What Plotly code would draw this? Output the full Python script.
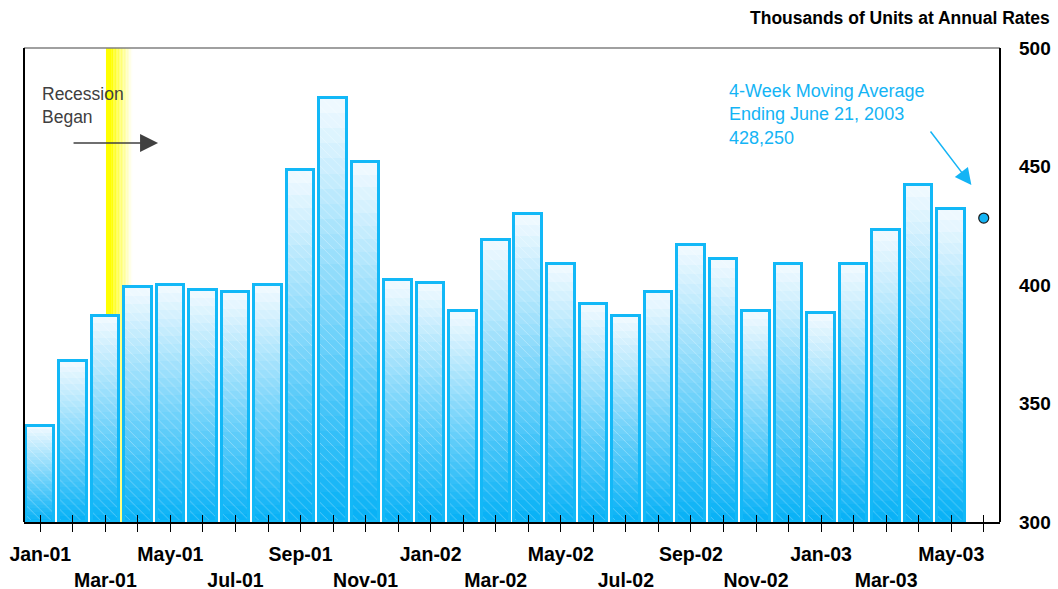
import plotly.graph_objects as go

# Monthly housing starts, thousands of units at annual rates
months = ["Jan-01", "Feb-01", "Mar-01", "Apr-01", "May-01", "Jun-01", "Jul-01", "Aug-01",
          "Sep-01", "Oct-01", "Nov-01", "Dec-01", "Jan-02", "Feb-02", "Mar-02", "Apr-02",
          "May-02", "Jun-02", "Jul-02", "Aug-02", "Sep-02", "Oct-02", "Nov-02", "Dec-02",
          "Jan-03", "Feb-03", "Mar-03", "Apr-03", "May-03", "Jun-03"]
starts = [340.5, 368, 387, 399, 400, 398, 397, 400, 448.5, 479, 452, 402, 401, 389,
          419, 430, 409, 392, 387, 397, 417, 411, 389, 409, 388, 409, 423, 442, 432]
moving_avg_month = "Jun-03"
moving_avg_value = 428.25
recession_month = "Mar-01"
y_ticks = [300, 350, 400, 450, 500]

BASE = 300
N_STEPS = 28
LIGHT = (238, 249, 255)
DARK = (10, 178, 246)
EDGE = "#12B8F7"

xi = list(range(len(starts)))
heights = [v - BASE for v in starts]

fig = go.Figure()

# Vertical gradient inside each bar: stacked overlay bars, light on top, deep blue at base
for k in range(N_STEPS):
    t = k / (N_STEPS - 1)
    col = tuple(round(LIGHT[i] + (DARK[i] - LIGHT[i]) * t) for i in range(3))
    frac = (N_STEPS - k) / N_STEPS
    fig.add_trace(go.Bar(
        x=xi, y=[h * frac for h in heights], base=BASE, width=0.85,
        marker=dict(color="rgb(%d,%d,%d)" % col, line=dict(width=0)),
        hoverinfo="skip", showlegend=False))

# Outline with faint diagonal hatching
fig.add_trace(go.Bar(
    x=xi, y=heights, base=BASE, width=0.85,
    customdata=starts, hovertemplate="%{customdata}<extra></extra>",
    marker=dict(color="rgba(0,0,0,0)", line=dict(color=EDGE, width=3),
                pattern=dict(shape="\\", fgcolor="white", fgopacity=0.35,
                             size=7, solidity=0.12)),
    showlegend=False))

# 4-week moving average point
ma_x = months.index(moving_avg_month)
fig.add_trace(go.Scatter(
    x=[ma_x], y=[moving_avg_value], mode="markers",
    marker=dict(size=10, color="#14B4F5", line=dict(color="#1a1a1a", width=1.2)),
    showlegend=False))

# Recession band: solid yellow fading to white
r0 = months.index(recession_month)
band_start, band_solid, band_end = r0 + 0.02, r0 + 0.2, r0 + 0.83
fig.add_shape(type="rect", xref="x", yref="paper", x0=band_start, x1=band_solid,
              y0=0, y1=1, fillcolor="#FFFF00", line=dict(width=0), layer="below")
n_fade = 14
for k in range(n_fade):
    a = band_solid + (band_end - band_solid) * k / n_fade
    b = band_solid + (band_end - band_solid) * (k + 1) / n_fade
    t = (k + 0.5) / n_fade
    blue = round(255 * t)
    fig.add_shape(type="rect", xref="x", yref="paper", x0=a, x1=b, y0=0, y1=1,
                  fillcolor="rgb(255,255,%d)" % blue, line=dict(width=0), layer="below")

# Frame lines
fig.add_shape(type="line", xref="paper", yref="paper", x0=0, x1=1, y0=1, y1=1,
              line=dict(color="#808080", width=1.5))
fig.add_shape(type="line", xref="paper", yref="paper", x0=0, x1=0, y0=0, y1=1,
              line=dict(color="black", width=2))
fig.add_shape(type="line", xref="paper", yref="paper", x0=1, x1=1, y0=0, y1=1,
              line=dict(color="black", width=2))

# Tick labels alternate between two rows
tick_text = []
for i, m in enumerate(months):
    if i % 2:
        tick_text.append("")
    elif (i // 2) % 2 == 0:
        tick_text.append(m)
    else:
        tick_text.append("<br>" + m)

FONT = "Liberation Sans, Arial"
fig.add_annotation(xref="paper", yref="paper", x=16 / 976, y=1 - 34 / 474,
                   xanchor="left", yanchor="top", align="left", showarrow=False,
                   text="Recession<br>Began", font=dict(family=FONT, size=17.5, color="#404040"))
fig.add_annotation(xref="x", yref="y", x=r0 + 1.62, y=500 - (143 - 48) / 2.37,
                   ax=-86, ay=0, axref="pixel", ayref="pixel", text="",
                   showarrow=True, arrowhead=2, arrowsize=2.4, arrowwidth=1.5,
                   arrowcolor="#404040")
fig.add_annotation(xref="paper", yref="paper", x=703 / 976, y=1 - 31 / 474,
                   xanchor="left", yanchor="top", align="left", showarrow=False,
                   text="4-Week Moving Average<br>Ending June 21, 2003<br>428,250",
                   font=dict(family=FONT, size=18, color="#14B4F5"))
fig.add_annotation(xref="x", yref="y", x=ma_x - 0.38, y=500 - (185 - 48) / 2.37,
                   ax=-42, ay=-55, axref="pixel", ayref="pixel", text="",
                   showarrow=True, arrowhead=2, arrowsize=2.2, arrowwidth=1.5,
                   arrowcolor="#14B4F5")
fig.add_annotation(xref="paper", yref="paper", x=1 + 52 / 976, y=1 + 30 / 474,
                   xanchor="right", yanchor="middle", showarrow=False,
                   text="<b>Thousands of Units at Annual Rates</b>",
                   font=dict(family=FONT, size=17.5, color="black"))

fig.update_layout(
    width=1058, height=589,
    margin=dict(l=24, r=58, t=48, b=67),
    paper_bgcolor="white", plot_bgcolor="white",
    barmode="overlay", bargap=0,
    font=dict(family=FONT, color="black"),
    xaxis=dict(range=[-0.5, len(months) - 0.5], tickmode="array", tickvals=list(range(len(months))),
               ticktext=["<b>%s</b>" % t if t else "" for t in tick_text],
               ticks="outside", ticklen=8, tickwidth=1, tickcolor="black", tickangle=0,
               showline=True, linecolor="black", linewidth=1.5, showgrid=False,
               zeroline=False, tickfont=dict(size=19.5), ticklabelstandoff=6,
               automargin=False),
    xaxis2=dict(overlaying="x", anchor="y", side="bottom", range=[-0.5, len(months) - 0.5],
                tickmode="array", tickvals=list(range(len(months))), showticklabels=False,
                ticks="inside", ticklen=7, tickwidth=1, tickcolor="black",
                showgrid=False, zeroline=False, showline=False, automargin=False),
    yaxis=dict(range=[300, 500], side="right", tickvals=y_ticks,
               ticktext=["<b>%d</b>" % v for v in y_ticks], ticks="",
               showgrid=False, zeroline=False, showline=False,
               tickfont=dict(size=19), ticklabelstandoff=18, automargin=False),
)
# invisible trace so the second x axis is drawn
fig.add_trace(go.Scatter(x=[0], y=[BASE], xaxis="x2", mode="markers",
                         marker=dict(opacity=0), hoverinfo="skip", showlegend=False))

fig.write_html("out.html")
